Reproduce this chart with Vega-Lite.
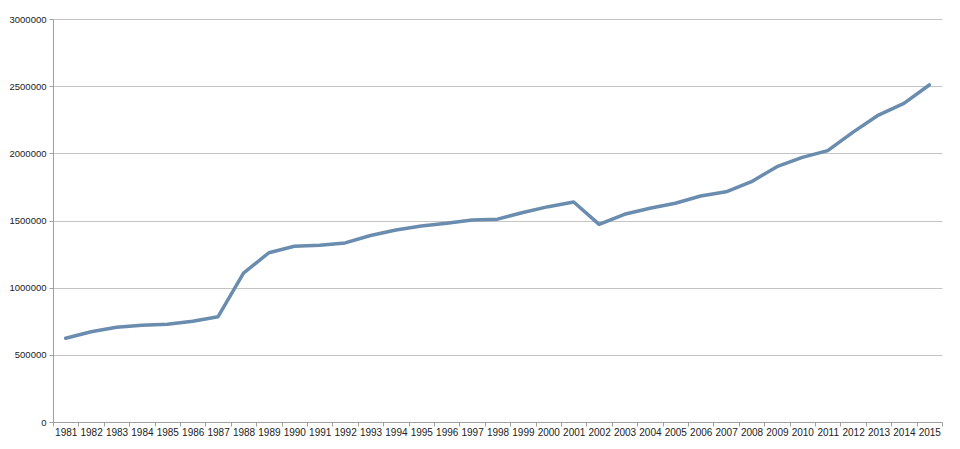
{
  "$schema": "https://vega.github.io/schema/vega-lite/v6.json",
  "width": 889,
  "height": 403,
  "autosize": {"type": "none"},
  "padding": {"left": 53, "top": 19, "right": 18, "bottom": 27},
  "background": "white",
  "data": {
    "values": [
      {"year": "1981", "value": 623000},
      {"year": "1982", "value": 672000},
      {"year": "1983", "value": 705000},
      {"year": "1984", "value": 720000},
      {"year": "1985", "value": 727000},
      {"year": "1986", "value": 750000},
      {"year": "1987", "value": 784000},
      {"year": "1988", "value": 1108000},
      {"year": "1989", "value": 1260000},
      {"year": "1990", "value": 1308000},
      {"year": "1991", "value": 1315000},
      {"year": "1992", "value": 1333000},
      {"year": "1993", "value": 1388000},
      {"year": "1994", "value": 1429000},
      {"year": "1995", "value": 1459000},
      {"year": "1996", "value": 1479000},
      {"year": "1997", "value": 1504000},
      {"year": "1998", "value": 1510000},
      {"year": "1999", "value": 1560000},
      {"year": "2000", "value": 1603000},
      {"year": "2001", "value": 1638000},
      {"year": "2002", "value": 1471000},
      {"year": "2003", "value": 1546000},
      {"year": "2004", "value": 1591000},
      {"year": "2005", "value": 1628000},
      {"year": "2006", "value": 1682000},
      {"year": "2007", "value": 1714000},
      {"year": "2008", "value": 1789000},
      {"year": "2009", "value": 1901000},
      {"year": "2010", "value": 1970000},
      {"year": "2011", "value": 2020000},
      {"year": "2012", "value": 2158000},
      {"year": "2013", "value": 2285000},
      {"year": "2014", "value": 2372000},
      {"year": "2015", "value": 2509000}
    ]
  },
  "mark": {"type": "line", "color": "#6a8cae", "strokeWidth": 3.5, "strokeJoin": "round", "strokeCap": "round"},
  "encoding": {
    "x": {
      "field": "year",
      "type": "ordinal",
      "scale": {"paddingInner": 0, "paddingOuter": 0},
      "axis": {
        "title": null,
        "labelAngle": 0,
        "tickBand": "extent",
        "grid": false,
        "domainColor": "#a0a0a0",
        "tickColor": "#a0a0a0",
        "tickSize": 4,
        "labelFont": "Liberation Sans",
        "labelFontSize": 10,
        "labelColor": "#222222",
        "labelPadding": 1
      }
    },
    "y": {
      "field": "value",
      "type": "quantitative",
      "scale": {"domain": [0, 3000000], "nice": false},
      "axis": {
        "title": null,
        "values": [0, 500000, 1000000, 1500000, 2000000, 2500000, 3000000],
        "format": "d",
        "grid": true,
        "gridColor": "#c4c4c4",
        "gridWidth": 1.2,
        "domainColor": "#a0a0a0",
        "tickColor": "#a0a0a0",
        "tickSize": 4,
        "labelFont": "Liberation Sans",
        "labelFontSize": 9.5,
        "labelColor": "#222222",
        "labelPadding": 3
      }
    }
  },
  "config": {"view": {"stroke": null}}
}
